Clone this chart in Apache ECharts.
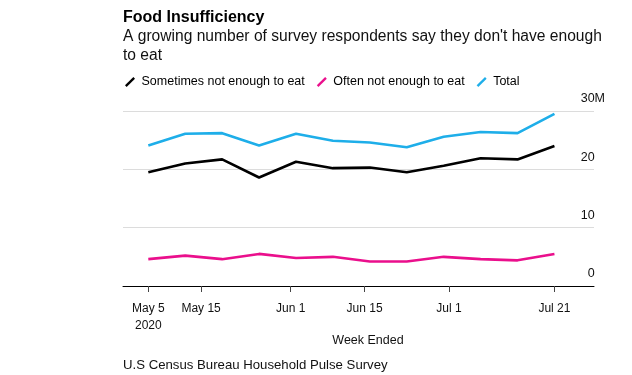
<!DOCTYPE html>
<html><head><meta charset="utf-8">
<script src="https://cdn.jsdelivr.net/npm/echarts@6/dist/echarts.min.js"></script>
<style>html,body{margin:0;padding:0;background:#fff}#c{width:632px;height:375px}</style>
</head><body><div id="c"></div>
<script>
const weeks = ['2020-05-05','2020-05-12','2020-05-19','2020-05-26','2020-06-02','2020-06-09','2020-06-16','2020-06-23','2020-06-30','2020-07-07','2020-07-14','2020-07-21'];
const sometimes = [19.5, 21.0, 21.7, 18.6, 21.3, 20.2, 20.3, 19.5, 20.6, 21.9, 21.7, 24.0];
const often     = [4.6, 5.2, 4.6, 5.5, 4.8, 5.0, 4.2, 4.2, 5.0, 4.6, 4.4, 5.5];
const total     = [24.1, 26.1, 26.2, 24.1, 26.1, 24.9, 24.6, 23.8, 25.6, 26.4, 26.2, 29.5];
const seriesNames = ['Sometimes not enough to eat', 'Often not enough to eat', 'Total'];
const tickDates = ['2020-05-05','2020-05-15','2020-06-01','2020-06-15','2020-07-01','2020-07-21'];
const tickLabels = ['May 5\n2020','May 15','Jun 1','Jun 15','Jul 1','Jul 21'];
const yValues = [0, 10, 20, 30];
const yLabels = ['0', '10', '20', '30M'];

const FONT = '"Liberation Sans", Arial, Helvetica, sans-serif';
function dayIndex(s){ const p = s.split('-').map(Number); return Math.round((Date.UTC(p[0], p[1]-1, p[2]) - Date.UTC(2020, 4, 5)) / 864e5); }
const weekDays = weeks.map(dayIndex);
const tickDays = tickDates.map(dayIndex);
const pair = arr => weekDays.map((t, i) => [t, arr[i]]);
const ICON = 'path://M0,9.2 L9.2,0 L11,1.8 L1.8,11 Z';

const chart = echarts.init(document.getElementById('c'), null, {renderer: 'canvas'});
chart.setOption({
  animation: false,
  backgroundColor: '#fff',
  textStyle: {fontFamily: FONT},
  grid: {left: 123, right: 38, top: 111, bottom: 89},
  legend: {
    left: 125, top: 75, padding: 0, itemWidth: 10, itemHeight: 11, itemGap: 12,
    selectedMode: false,
    textStyle: {fontSize: 12.5, fontFamily: FONT, color: '#000', lineHeight: 14, padding: [0,0,0,1.5]},
    data: seriesNames.map(n => ({name: n, icon: ICON}))
  },
  xAxis: {
    type: 'value',
    min: weekDays[0] - 4.8,
    max: weekDays[weekDays.length - 1] + 7.5,
    axisLine: {show: true, onZero: false, lineStyle: {color: '#000', width: 1}},
    axisTick: {show: true, length: 6, lineStyle: {color: '#444', width: 1}, customValues: tickDays},
    axisLabel: {
      customValues: tickDays,
      formatter: function (v) {
        let best = 0, d = Infinity;
        tickDays.forEach((t, i) => { if (Math.abs(t - v) < d) { d = Math.abs(t - v); best = i; } });
        return tickLabels[best];
      },
      fontSize: 12, lineHeight: 17, margin: 14.5, color: '#111', fontFamily: FONT, hideOverlap: false
    },
    splitLine: {show: false}
  },
  yAxis: {
    type: 'value', position: 'right', min: 0, max: 30, interval: 10,
    axisLine: {show: false}, axisTick: {show: false},
    splitLine: {lineStyle: {color: '#dcdcdc', width: 1}},
    axisLabel: {
      inside: true, margin: -11, align: 'right', verticalAlign: 'bottom', lineHeight: 24,
      fontSize: 12.5, color: '#111', fontFamily: FONT,
      formatter: function (v) {
        const i = yValues.indexOf(v);
        const s = i >= 0 ? yLabels[i] : String(v);
        return /M$/.test(s) ? s : '{p|' + s + '}';
      },
      rich: {p: {padding: [0, 10.4, 0, 0], fontSize: 12.5, lineHeight: 24, color: '#111', fontFamily: FONT}}
    }
  },
  series: [
    {name: seriesNames[0], type: 'line', data: pair(sometimes), showSymbol: false, color: '#000000', lineStyle: {width: 2.6, color: '#000000'}, emphasis: {disabled: true}},
    {name: seriesNames[1], type: 'line', data: pair(often), showSymbol: false, color: '#ea0f8c', lineStyle: {width: 2.6, color: '#ea0f8c'}, emphasis: {disabled: true}},
    {name: seriesNames[2], type: 'line', data: pair(total), showSymbol: false, color: '#1eaee9', lineStyle: {width: 2.6, color: '#1eaee9'}, emphasis: {disabled: true}}
  ],
  graphic: [
    {type: 'text', x: 123, y: 18, style: {text: 'Food Insufficiency', font: 'bold 16px ' + FONT, fill: '#000', textAlign: 'left', textVerticalAlign: 'middle'}},
    {type: 'text', x: 123, y: 27, style: {text: "A growing number of survey respondents say they don't have enough\nto eat", font: '15.6px ' + FONT, lineHeight: 19, fill: '#111', textAlign: 'left', textVerticalAlign: 'top'}},
    {type: 'text', x: 368, y: 340.5, style: {text: 'Week Ended', font: '12.5px ' + FONT, fill: '#111', textAlign: 'center', textVerticalAlign: 'middle'}},
    {type: 'text', x: 123, y: 365, style: {text: 'U.S Census Bureau Household Pulse Survey', font: '13.2px ' + FONT, fill: '#111', textAlign: 'left', textVerticalAlign: 'middle'}}
  ]
});
</script></body></html>
